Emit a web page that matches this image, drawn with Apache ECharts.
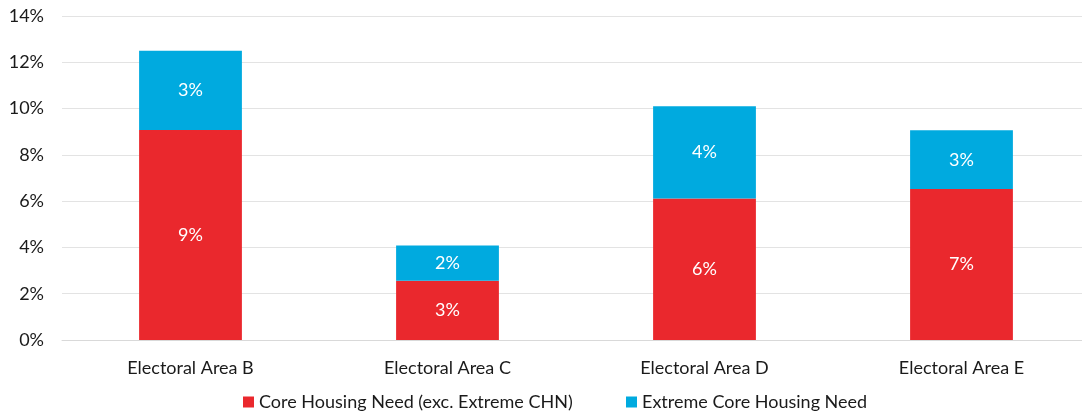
<!DOCTYPE html>
<html>
<head>
<meta charset="utf-8">
<script src="https://cdn.jsdelivr.net/npm/echarts@6/dist/echarts.min.js"></script>
<style>
  html, body { margin: 0; padding: 0; background: #fff; overflow: hidden; }
  /* plot runs slightly past the right edge of the window, so the canvas is a bit wider */
  #chart { width: 1090px; height: 415px; }
</style>
</head>
<body>
<div id="chart"></div>
<script>
// Share of households in core housing need, by electoral area (%)
const categories = ['Electoral Area B', 'Electoral Area C', 'Electoral Area D', 'Electoral Area E'];
const coreNeed = [9.07, 2.56, 6.11, 6.52];     // Core Housing Need (exc. Extreme CHN)
const extremeNeed = [3.43, 1.52, 3.99, 2.54];  // Extreme Core Housing Need
const yTicks = { min: 0, max: 14, interval: 2 };
const seriesNames = ['Core Housing Need (exc. Extreme CHN)', 'Extreme Core Housing Need'];

const FONT = 'Lato, "Open Sans", sans-serif';
const TEXT = '#1a1a1a';
const chart = echarts.init(document.getElementById('chart'), null, { renderer: 'canvas' });

const barLabel = {
  show: true,
  position: 'inside',
  color: '#ffffff',
  fontFamily: FONT,
  fontSize: 18,
  formatter: p => Math.round(p.value) + '%'
};

const legendBase = {
  top: 388,
  padding: 5,
  itemWidth: 11,
  itemHeight: 11,
  itemGap: 5,
  icon: 'rect',
  textStyle: { fontFamily: FONT, fontSize: 18, color: TEXT }
};

chart.setOption({
  animation: false,
  textStyle: { fontFamily: FONT },
  grid: { left: 62, top: 16, right: 0, height: 324, containLabel: false },
  legend: [
    Object.assign({ left: 238, data: [seriesNames[0]] }, legendBase),
    Object.assign({ left: 621, data: [seriesNames[1]] }, legendBase)
  ],
  xAxis: {
    type: 'category',
    data: categories,
    axisLine: { lineStyle: { color: '#d9d9d9' } },
    axisTick: { show: false },
    axisLabel: { color: TEXT, fontFamily: FONT, fontSize: 18, margin: 19 }
  },
  yAxis: {
    type: 'value',
    min: yTicks.min,
    max: yTicks.max,
    interval: yTicks.interval,
    axisLine: { show: false },
    axisTick: { show: false },
    splitLine: { lineStyle: { color: '#e3e3e3' } },
    axisLabel: { color: TEXT, fontFamily: FONT, fontSize: 18, margin: 18, formatter: v => v + '%' }
  },
  series: [
    {
      name: seriesNames[0],
      type: 'bar',
      stack: 'need',
      data: coreNeed,
      barWidth: '40%',
      itemStyle: { color: '#ea282d' },
      label: barLabel
    },
    {
      name: seriesNames[1],
      type: 'bar',
      stack: 'need',
      data: extremeNeed,
      barWidth: '40%',
      itemStyle: { color: '#00aadf' },
      label: barLabel
    }
  ]
});
</script>
</body>
</html>
